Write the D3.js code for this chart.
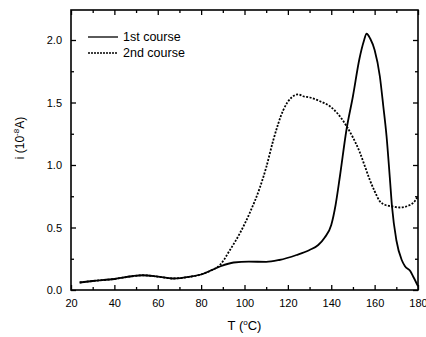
<!DOCTYPE html>
<html>
<head>
<meta charset="utf-8">
<script src="https://cdn.jsdelivr.net/npm/d3@7"></script>
<style>
  body { margin: 0; background: #fff; }
  svg { font-family: "Liberation Sans", Arial, sans-serif; }
</style>
</head>
<body>
<svg id="chart" width="426" height="337"></svg>
<script>
// 1st course (solid)
var temp1 = [24, 30, 40, 48, 53, 60, 67, 75, 81, 85, 89, 95, 102, 110, 116, 124, 130, 134, 137, 140, 142, 144, 147, 150, 153, 155, 156.3, 158, 160, 162.4, 164, 165.5, 167, 168, 170, 172.5, 174, 176.5, 178, 180];
var cur1  = [0.06, 0.072, 0.088, 0.11, 0.118, 0.107, 0.092, 0.107, 0.13, 0.16, 0.19, 0.22, 0.227, 0.225, 0.24, 0.28, 0.32, 0.36, 0.42, 0.52, 0.68, 0.91, 1.28, 1.55, 1.85, 1.99, 2.05, 2.01, 1.92, 1.71, 1.47, 1.23, 0.9, 0.67, 0.40, 0.24, 0.19, 0.15, 0.1, 0.03];
// 2nd course (dotted)
var temp2 = [24, 30, 40, 48, 53, 60, 67, 75, 81, 85, 88.7, 93.3, 97.9, 102.5, 107.1, 110, 113.3, 117.9, 121.7, 124.8, 127, 130.2, 134.8, 139.4, 143, 147.1, 150, 153.2, 155.5, 157.8, 160, 162.4, 165, 167.8, 171.7, 176.3, 178.5, 180];
var cur2  = [0.06, 0.072, 0.088, 0.11, 0.118, 0.107, 0.092, 0.107, 0.13, 0.16, 0.20, 0.32, 0.455, 0.62, 0.82, 0.98, 1.2, 1.44, 1.54, 1.565, 1.55, 1.54, 1.51, 1.47, 1.41, 1.31, 1.22, 1.10, 0.99, 0.88, 0.79, 0.71, 0.68, 0.67, 0.66, 0.68, 0.71, 0.75];

var xTicks = [20, 40, 60, 80, 100, 120, 140, 160, 180];
var yTicks = [0.0, 0.5, 1.0, 1.5, 2.0];
var seriesNames = ["1st course", "2nd course"];

var svg = d3.select("#chart"),
    margin = {top: 10, right: 8, bottom: 47, left: 71},
    width = +svg.attr("width") - margin.left - margin.right,
    height = +svg.attr("height") - margin.top - margin.bottom;

var x = d3.scaleLinear().domain([20, 180]).range([0, width]);
var y = d3.scaleLinear().domain([0, 2.24]).range([height, 0]);

var g = svg.append("g").attr("transform", "translate(" + margin.left + "," + margin.top + ")");

var minorX = d3.range(30, 180, 20);
var minorY = d3.range(0.25, 2.24, 0.5);

function styleAxis(sel) {
  sel.select(".domain").remove();
  sel.selectAll("line").attr("stroke", "#000").attr("stroke-width", 1.3);
  sel.selectAll("text").attr("fill", "#000").attr("font-size", "11px");
}

// bottom
g.append("g").attr("transform", "translate(0," + height + ")")
 .call(d3.axisBottom(x).tickValues(xTicks).tickSize(-5).tickPadding(9).tickFormat(d3.format("d")))
 .call(styleAxis);
g.append("g").attr("transform", "translate(0," + height + ")")
 .call(d3.axisBottom(x).tickValues(minorX).tickSize(-3).tickFormat(""))
 .call(styleAxis);
// top
g.append("g").call(d3.axisTop(x).tickValues(xTicks).tickSize(-5).tickFormat("")).call(styleAxis);
g.append("g").call(d3.axisTop(x).tickValues(minorX).tickSize(-3).tickFormat("")).call(styleAxis);
// left
g.append("g")
 .call(d3.axisLeft(y).tickValues(yTicks).tickSize(-5).tickPadding(9).tickFormat(d3.format(".1f")))
 .call(styleAxis);
g.append("g").call(d3.axisLeft(y).tickValues(minorY).tickSize(-3).tickFormat("")).call(styleAxis);
// right
g.append("g").attr("transform", "translate(" + width + ",0)")
 .call(d3.axisRight(y).tickValues(yTicks).tickSize(-5).tickFormat("")).call(styleAxis);
g.append("g").attr("transform", "translate(" + width + ",0)")
 .call(d3.axisRight(y).tickValues(minorY).tickSize(-3).tickFormat("")).call(styleAxis);

// frame
g.append("rect").attr("width", width).attr("height", height)
 .attr("fill", "none").attr("stroke", "#000").attr("stroke-width", 1.6);

var line = d3.line()
    .x(function(d) { return x(d[0]); })
    .y(function(d) { return y(d[1]); })
    .curve(d3.curveMonotoneX);

var data1 = temp1.map(function(t, i) { return [t, cur1[i]]; });
var data2 = temp2.map(function(t, i) { return [t, cur2[i]]; });

g.append("path").datum(data2).attr("d", line)
 .attr("fill", "none").attr("stroke", "#000").attr("stroke-width", 1.8)
 .attr("stroke-dasharray", "2,1.5");
g.append("path").datum(data1).attr("d", line)
 .attr("fill", "none").attr("stroke", "#000").attr("stroke-width", 1.8);

// legend
var legend = g.append("g").attr("transform", "translate(17,27)");
seriesNames.forEach(function(name, i) {
  var row = legend.append("g").attr("transform", "translate(0," + (i * 16) + ")");
  row.append("line").attr("x1", 0).attr("x2", 30).attr("y1", 0).attr("y2", 0)
     .attr("stroke", "#000").attr("stroke-width", 1.3)
     .attr("stroke-dasharray", i === 1 ? "2,1" : null);
  row.append("text").attr("x", 35).attr("y", 4).attr("font-size", "12.5px").text(name);
});

// axis titles
svg.append("text")
   .attr("x", margin.left + width / 2).attr("y", 330)
   .attr("text-anchor", "middle").attr("font-size", "13px")
   .html('T (<tspan dy="-5" font-size="8px">o</tspan><tspan dy="5">C)</tspan>');

svg.append("text")
   .attr("transform", "translate(24,138) rotate(-90)")
   .attr("text-anchor", "middle").attr("font-size", "12px")
   .html('i (10<tspan dy="-5" font-size="8px">-8</tspan><tspan dy="5">A)</tspan>');
</script>
</body>
</html>
